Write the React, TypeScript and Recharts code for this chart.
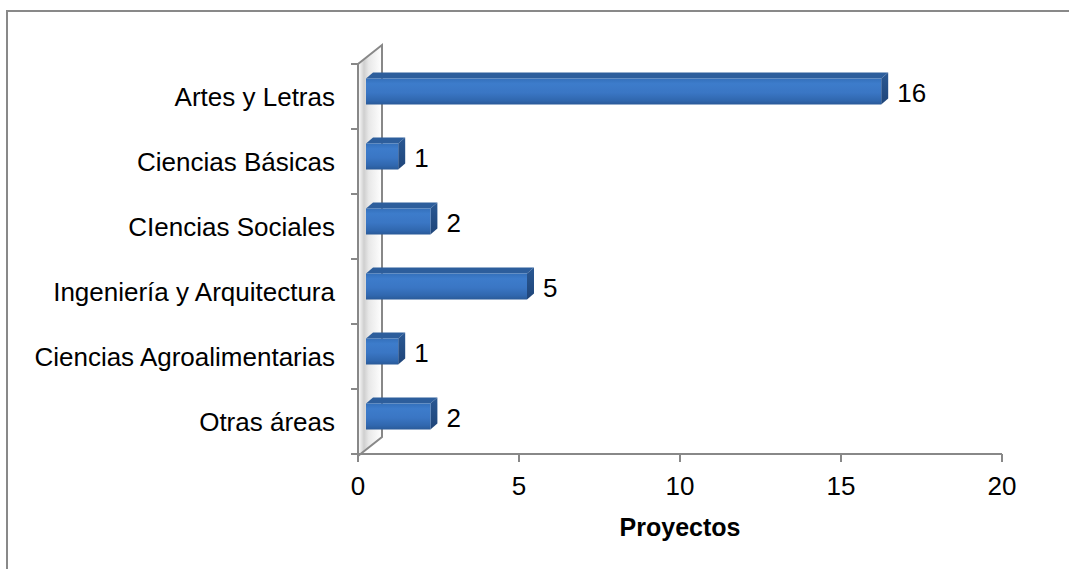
import React from 'react';
import { BarChart, Bar, XAxis, YAxis, LabelList, Label } from 'recharts';

const categories = [
  'Artes y Letras',
  'Ciencias Básicas',
  'CIencias Sociales',
  'Ingeniería y Arquitectura',
  'Ciencias Agroalimentarias',
  'Otras áreas',
];
const proyectos = [16, 1, 2, 5, 1, 2];
const xTicks = [0, 5, 10, 15, 20];

const data = categories.map((area, i) => ({ area, proyectos: proyectos[i] }));

const W = 1069;
const H = 569;
const M_TOP = 64;
const M_RIGHT = 67;
const Y_W = 358;
const X_H = 115;
const PLOT_LEFT = Y_W;
const PLOT_TOP = M_TOP;
const PLOT_BOTTOM = H - X_H;
const PLOT_H = PLOT_BOTTOM - PLOT_TOP;
const WALL_DX = 24;
const WALL_DY = 19;
const DX = 7;
const DY = 6;
const SHIFT_X = 8;
const SHIFT_Y = 5.5;
const FONT = '"Liberation Sans", Arial, sans-serif';
const GRAY = '#888888';

const Bar3D = (p: any) => {
  const { x, y, width, height } = p;
  if (!width || width <= 0) return null;
  const fx = x + SHIFT_X;
  const fy = y - SHIFT_Y;
  const w = width;
  const h = height;
  return (
    <g>
      <polygon
        points={`${fx},${fy} ${fx + DX},${fy - DY} ${fx + w + DX},${fy - DY} ${fx + w},${fy}`}
        fill="#2d5e9c"
      />
      <polygon
        points={`${fx + w},${fy} ${fx + w + DX},${fy - DY} ${fx + w + DX},${fy + h - DY} ${fx + w},${fy + h}`}
        fill="url(#sideGrad)"
      />
      <rect x={fx} y={fy} width={w} height={h} fill="url(#frontGrad)" />
    </g>
  );
};

const ValueLabel = (p: any) => {
  const { x, y, width, height, value } = p;
  return (
    <text
      x={Number(x) + Number(width) + SHIFT_X + DX + 9}
      y={Number(y) + Number(height) / 2 - 4.5}
      dy="0.36em"
      fontSize={26}
      fontFamily={FONT}
      fill="#000"
    >
      {value}
    </text>
  );
};

const CatTick = (p: any) => {
  const { x, y, payload, index } = p;
  const half = PLOT_H / (2 * categories.length);
  return (
    <g>
      <text x={x} y={y} dy="0.36em" textAnchor="end" fontSize={26} fontFamily={FONT} fill="#000">
        {payload.value}
      </text>
      <line x1={PLOT_LEFT - 7} x2={PLOT_LEFT} y1={y - half} y2={y - half} stroke={GRAY} strokeWidth={2} />
      {index === categories.length - 1 && (
        <line x1={PLOT_LEFT - 7} x2={PLOT_LEFT} y1={y + half} y2={y + half} stroke={GRAY} strokeWidth={2} />
      )}
    </g>
  );
};

export default function App() {
  return (
    <div style={{ position: 'absolute', left: 0, top: 0, width: W, height: H, background: '#fff' }}>
      <svg width={W} height={H} style={{ position: 'absolute', left: 0, top: 0 }}>
        <defs>
          <linearGradient id="frontGrad" x1="0" y1="0" x2="0" y2="1">
            <stop offset="0" stopColor="#3470bb" />
            <stop offset="0.2" stopColor="#3d7ccb" />
            <stop offset="0.55" stopColor="#3a76c4" />
            <stop offset="0.85" stopColor="#3067ae" />
            <stop offset="1" stopColor="#2a5a98" />
          </linearGradient>
          <linearGradient id="sideGrad" x1="0" y1="0" x2="0" y2="1">
            <stop offset="0" stopColor="#2a5893" />
            <stop offset="1" stopColor="#1f4579" />
          </linearGradient>
          <linearGradient id="wallGrad" x1="0" y1="0" x2="1" y2="0">
            <stop offset="0" stopColor="#ffffff" />
            <stop offset="0.25" stopColor="#cfcfcf" />
            <stop offset="0.45" stopColor="#e8e8e8" />
            <stop offset="1" stopColor="#ffffff" />
          </linearGradient>
        </defs>
        <rect x={7} y={11} width={W + 20} height={H + 20} fill="none" stroke="#898989" strokeWidth={2} />
        <polygon
          points={`${PLOT_LEFT},${PLOT_TOP} ${PLOT_LEFT + WALL_DX},${PLOT_TOP - WALL_DY} ${PLOT_LEFT + WALL_DX},${PLOT_BOTTOM - WALL_DY + 2} ${PLOT_LEFT},${PLOT_BOTTOM + 2}`}
          fill="url(#wallGrad)"
          stroke={GRAY}
          strokeWidth={2}
        />
      </svg>
      <div style={{ position: 'absolute', left: 0, top: 0 }}>
        <BarChart
          width={W}
          height={H}
          data={data}
          layout="vertical"
          margin={{ top: M_TOP, right: M_RIGHT, left: 0, bottom: 0 }}
        >
          <XAxis
            type="number"
            domain={[0, 20]}
            ticks={xTicks}
            interval={0}
            height={X_H}
            tickSize={8}
            tickMargin={15}
            axisLine={{ stroke: GRAY, strokeWidth: 2 }}
            tickLine={{ stroke: GRAY, strokeWidth: 2 }}
            tick={{ fontSize: 26, fill: '#000', fontFamily: FONT }}
          >
            <Label
              value="Proyectos"
              position="insideTop"
              offset={64}
              style={{ fontSize: 25, fontWeight: 'bold', fill: '#000', fontFamily: FONT }}
            />
          </XAxis>
          <YAxis
            type="category"
            dataKey="area"
            width={Y_W}
            tickSize={7}
            tickMargin={16}
            tickLine={false}
            axisLine={{ stroke: GRAY, strokeWidth: 2 }}
            tick={<CatTick />}
            interval={0}
          />
          <Bar dataKey="proyectos" barSize={26} shape={<Bar3D />} isAnimationActive={false}>
            <LabelList dataKey="proyectos" content={<ValueLabel />} />
          </Bar>
        </BarChart>
      </div>
    </div>
  );
}
